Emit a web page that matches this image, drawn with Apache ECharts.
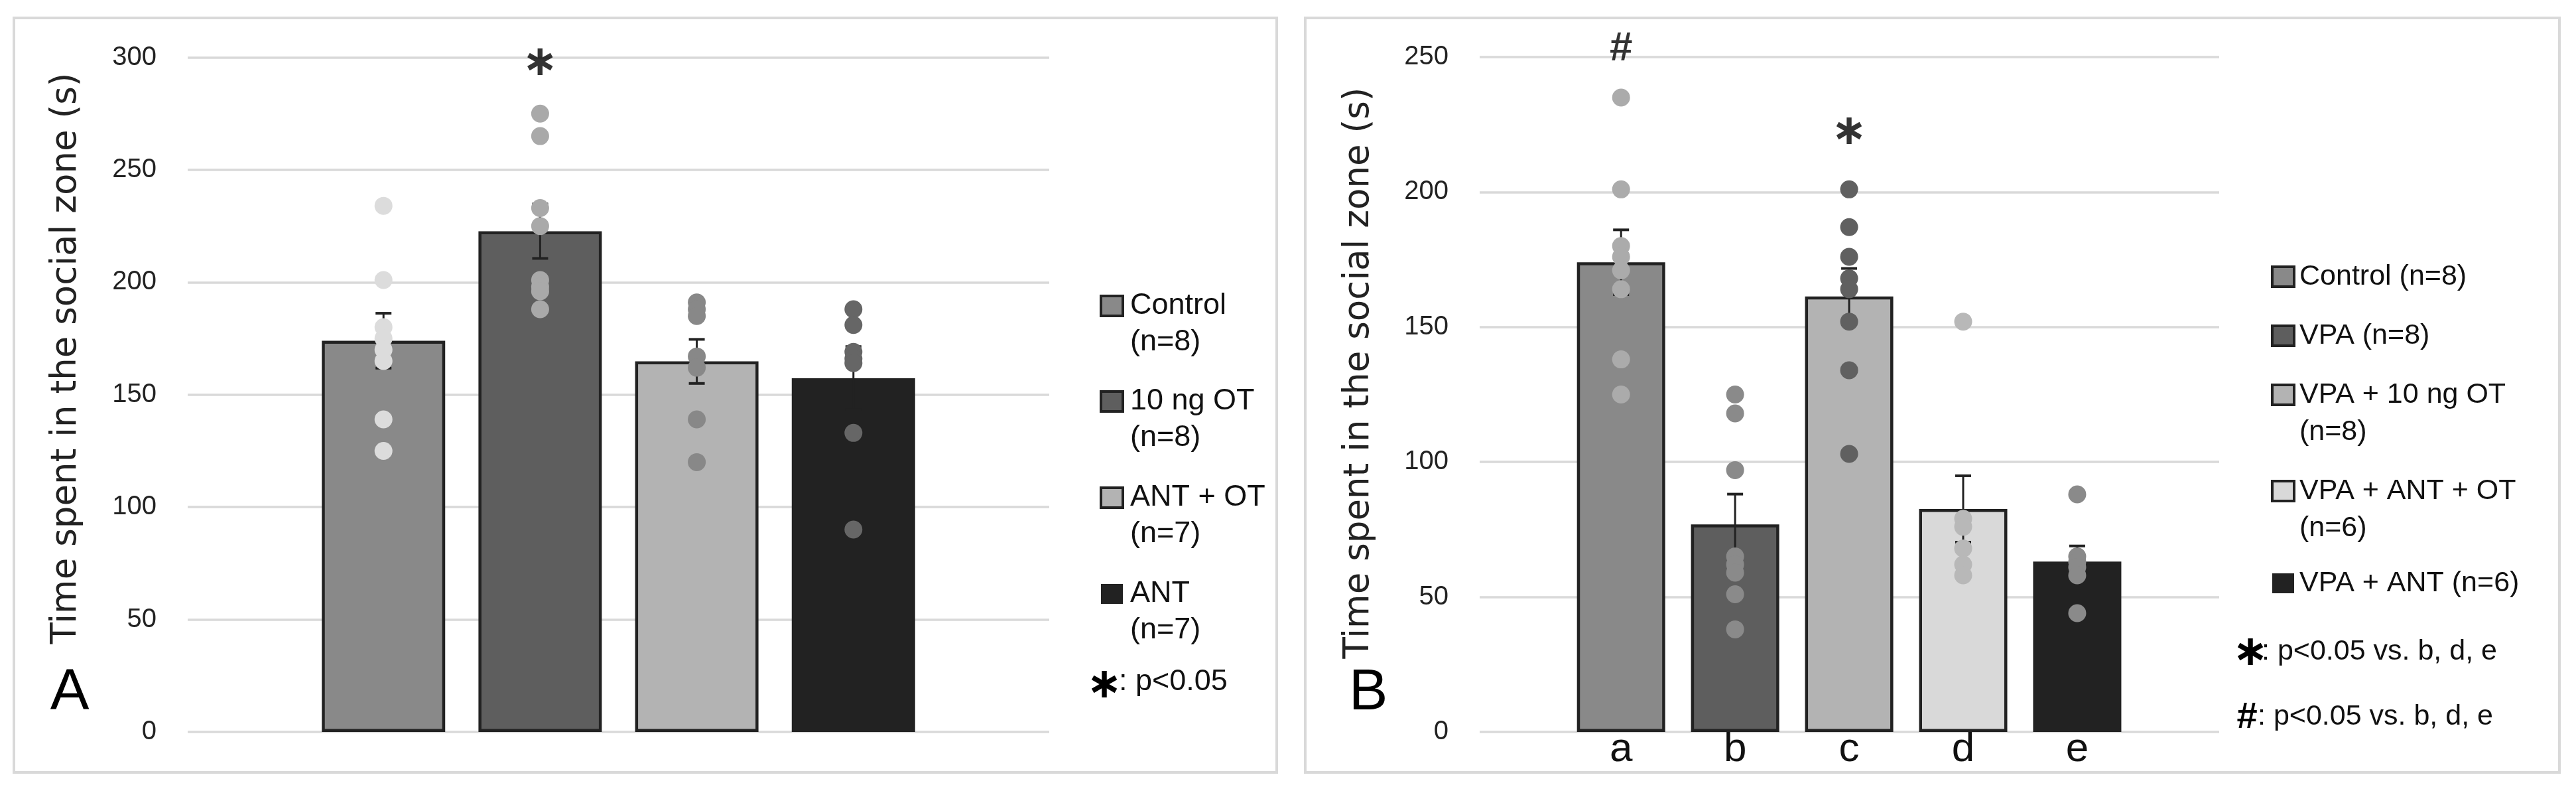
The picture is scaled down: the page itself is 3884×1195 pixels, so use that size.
<!DOCTYPE html>
<html>
<head>
<meta charset="utf-8">
<script src="https://cdn.jsdelivr.net/npm/echarts@6/dist/echarts.min.js"></script>
<style>
html,body{margin:0;padding:0;background:#fff;}
#chart{width:3884px;height:1195px;}
</style>
</head>
<body>
<div id="chart"></div>
<script>
// ---------- Panel A data ----------
const groupsA = ['Control', '10 ng OT', 'ANT + OT', 'ANT'];
const legendA = ['Control\n(n=8)', '10 ng OT\n(n=8)', 'ANT + OT\n(n=7)', 'ANT\n(n=7)'];
const meanA = [174, 222.7, 164.8, 157.3];
const semA = [12.2, 12.1, 9.8, 14.1];
const dotsControlA = [234, 201, 180, 175, 170, 165, 139, 125];
const dotsOTA = [275, 265, 233, 225, 201, 198, 196, 188];
const dotsAntOtA = [191, 188, 185, 167, 162, 139, 120];
const dotsAntA = [188, 181, 169, 166, 164, 133, 90];
const yTicksA = [0, 300, 50];
const signifA = [[1, 297, '∗']];

// ---------- Panel B data ----------
const catsB = ['a', 'b', 'c', 'd', 'e'];
const legendB = ['Control (n=8)', 'VPA (n=8)', 'VPA + 10 ng OT\n(n=8)', 'VPA + ANT + OT\n(n=6)', 'VPA + ANT (n=6)'];
const meanB = [174, 76.9, 161.3, 82.6, 63.1];
const semB = [12, 11.2, 10.4, 12.3, 5.8];
const dotsControlB = [235, 201, 180, 176, 171, 164, 138, 125];
const dotsVpaB = [125, 118, 97, 65, 62, 59, 51, 38];
const dotsVpaOtB = [201, 187, 176, 168, 164, 152, 134, 103];
const dotsVpaAntOtB = [152, 79, 76, 68, 62, 58];
const dotsVpaAntB = [88, 65, 63, 61, 58, 44];
const yTicksB = [0, 250, 50];
const signifB = [[0, 253, '#'], [2, 222, '∗']];

// ---------- styles ----------
const barColorsA = ['#898989', '#5e5e5e', '#b3b3b3', '#222222'];
const dotColorsA = ['#dcdcdc', '#a9a9a9', '#888888', '#666666'];
const barColorsB = ['#898989', '#5e5e5e', '#b3b3b3', '#d9d9d9', '#222222'];
const dotColorsB = ['#ababab', '#8a8a8a', '#606060', '#b8b8b8', '#8a8a8a'];
const dotsA = [dotsControlA, dotsOTA, dotsAntOtA, dotsAntA];
const dotsB = [dotsControlB, dotsVpaB, dotsVpaOtB, dotsVpaAntOtB, dotsVpaAntB];

const SANS = 'Liberation Sans';
const TITLE_FONT = 'DejaVu Sans';
const STAR_FONT = 'DejaVu Sans';
const INK = '#222';

function errRender(params, api) {
  const x = api.value(0), m = api.value(1), s = api.value(2);
  const p1 = api.coord([x, m + s]), p0 = api.coord([x, m - s]);
  const c = 12;
  return {type: 'group', children: [
    {type: 'line', shape: {x1: p1[0], y1: p1[1], x2: p0[0], y2: p0[1]}, style: {stroke: INK, lineWidth: 3}},
    {type: 'line', shape: {x1: p1[0] - c, y1: p1[1], x2: p1[0] + c, y2: p1[1]}, style: {stroke: INK, lineWidth: 4}},
    {type: 'line', shape: {x1: p0[0] - c, y1: p0[1], x2: p0[0] + c, y2: p0[1]}, style: {stroke: INK, lineWidth: 4}}
  ]};
}

function yAxis(gi, t) {
  return {
    gridIndex: gi, type: 'value', min: t[0], max: t[1], interval: t[2],
    axisLine: {show: false}, axisTick: {show: false},
    splitLine: {lineStyle: {color: '#d9d9d9', width: 3.5}},
    axisLabel: {fontFamily: SANS, fontSize: 40, color: INK, margin: 47}
  };
}

const series = [];
function addPanel(gi, means, sems, barColors, dots, dotColors, names, signif, barW) {
  series.push({
    type: 'bar', xAxisIndex: gi, yAxisIndex: gi, barWidth: barW, z: 2,
    data: means.map((m, i) => ({
      value: [i, m], name: names[i],
      itemStyle: {color: barColors[i], borderColor: INK, borderWidth: 4.5}
    }))
  });
  series.push({
    type: 'custom', xAxisIndex: gi, yAxisIndex: gi, z: 3, renderItem: errRender,
    encode: {x: 0, y: 1},
    data: means.map((m, i) => [i, m, sems[i]])
  });
  dots.forEach((arr, i) => {
    series.push({
      type: 'scatter', xAxisIndex: gi, yAxisIndex: gi, z: 4, symbolSize: 27,
      itemStyle: {color: dotColors[i], opacity: 1},
      data: arr.map(v => [i, v])
    });
  });
  series.push({
    type: 'scatter', xAxisIndex: gi, yAxisIndex: gi, z: 5, symbolSize: 0, clip: false,
    data: signif.map(s => ({value: [s[0], s[1]], mark: s[2]})),
    label: {
      show: true, position: 'inside', color: '#000',
      formatter: p => p.data.mark === '#' ? '{h|#}' : '{s|∗}',
      rich: {
        h: {fontFamily: SANS, fontSize: 62, fontWeight: 'bold', color: '#000'},
        s: {fontFamily: STAR_FONT, fontSize: 64, fontWeight: 'bold', color: '#000'}
      }
    }
  });
}
addPanel(0, meanA, semA, barColorsA, dotsA, dotColorsA, groupsA, signifA, 186);
addPanel(1, meanB, semB, barColorsB, dotsB, dotColorsB, catsB, signifB, 133);

// ---------- graphic: panel frames, titles, legends ----------
const graphic = [];
graphic.push({type: 'rect', shape: {x: 21, y: 27, width: 1904, height: 1137}, style: {fill: null, stroke: '#d9d9d9', lineWidth: 4}, z: -1});
graphic.push({type: 'rect', shape: {x: 1968, y: 27, width: 1891, height: 1137}, style: {fill: null, stroke: '#d9d9d9', lineWidth: 4}, z: -1});
function vtitle(x, y) {
  graphic.push({type: 'text', x: x, y: y, rotation: Math.PI / 2,
    style: {text: 'Time spent in the social zone (s)', fontFamily: TITLE_FONT, fontSize: 53, fill: INK, align: 'center', verticalAlign: 'middle'}});
}
vtitle(100, 540);
vtitle(2049, 562);
graphic.push({type: 'text', x: 105, y: 1045, style: {text: 'A', fontFamily: SANS, fontSize: 88, fill: '#000', align: 'center', verticalAlign: 'middle'}});
graphic.push({type: 'text', x: 2063, y: 1045, style: {text: 'B', fontFamily: SANS, fontSize: 88, fill: '#000', align: 'center', verticalAlign: 'middle'}});

function legendItem(mx, tx, cy, color, text, fs, lh, bordered) {
  graphic.push({type: 'rect', shape: {x: mx, y: cy - 15, width: 33, height: 30},
    style: {fill: color, stroke: bordered ? INK : color, lineWidth: bordered ? 4 : 0}});
  graphic.push({type: 'text', x: tx, y: cy - lh / 2,
    style: {text: text, fontFamily: SANS, fontSize: fs, lineHeight: lh, fill: '#111', align: 'left', verticalAlign: 'top'}});
}
const legYA = [461, 605, 750, 895];
legendA.forEach((t, i) => legendItem(1660, 1704, legYA[i], barColorsA[i], t, 45, 55, i < 3));
graphic.push({type: 'text', x: 1665, y: 1034, style: {text: '∗', fontFamily: STAR_FONT, fontSize: 64, fontWeight: 'bold', fill: '#000', align: 'center', verticalAlign: 'middle'}});
graphic.push({type: 'text', x: 1687, y: 1028, style: {text: ': p<0.05', fontFamily: SANS, fontSize: 45, fill: '#111', align: 'left', verticalAlign: 'middle'}});

const legYB = [417, 506, 595, 740, 879];
legendB.forEach((t, i) => legendItem(3426, 3467, legYB[i], barColorsB[i], t, 43, 56, i < 4));
graphic.push({type: 'text', x: 3393, y: 985, style: {text: '∗', fontFamily: STAR_FONT, fontSize: 64, fontWeight: 'bold', fill: '#000', align: 'center', verticalAlign: 'middle'}});
graphic.push({type: 'text', x: 3410, y: 982, style: {text: ': p<0.05 vs. b, d, e', fontFamily: SANS, fontSize: 43, fill: '#111', align: 'left', verticalAlign: 'middle'}});
graphic.push({type: 'text', x: 3388, y: 1082, style: {text: '#', fontFamily: SANS, fontSize: 56, fontWeight: 'bold', fill: '#000', align: 'center', verticalAlign: 'middle'}});
graphic.push({type: 'text', x: 3404, y: 1080, style: {text: ': p<0.05 vs. b, d, e', fontFamily: SANS, fontSize: 43, fill: '#111', align: 'left', verticalAlign: 'middle'}});

const chart = echarts.init(document.getElementById('chart'), null, {renderer: 'canvas'});
chart.setOption({
  backgroundColor: '#fff',
  animation: false,
  grid: [
    {left: 283, top: 86.5, width: 1299, height: 1016.5},
    {left: 2231, top: 86, width: 1115, height: 1017}
  ],
  xAxis: [
    {gridIndex: 0, type: 'value', min: -1.25, max: 4.25, show: false, splitLine: {show: false}},
    {gridIndex: 1, type: 'value', min: -1.24, max: 5.245,
      axisLine: {show: false}, axisTick: {show: false}, splitLine: {show: false},
      axisLabel: {customValues: catsB.map((c, i) => i), formatter: v => catsB[Math.round(v)],
        fontFamily: SANS, fontSize: 62, color: '#111', margin: -4}}
  ],
  yAxis: [yAxis(0, yTicksA), yAxis(1, yTicksB)],
  series: series,
  graphic: graphic
});
</script>
</body>
</html>
